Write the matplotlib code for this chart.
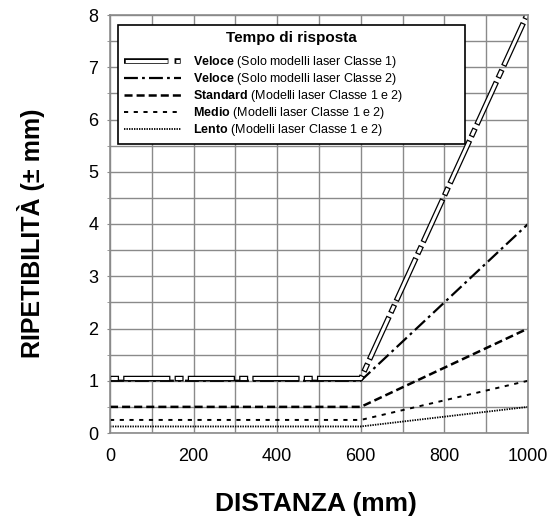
import matplotlib
matplotlib.use("Agg")
import matplotlib.pyplot as plt
from matplotlib.lines import Line2D
from matplotlib.legend_handler import HandlerTuple
from matplotlib import transforms, font_manager
from matplotlib.ticker import MultipleLocator

# ---------------- data ----------------
distanza = [0, 600, 1000]
veloce_c1 = [1.0, 1.0, 8.0]
veloce_c2 = [1.0, 1.0, 4.0]
standard = [0.5, 0.5, 2.0]
medio = [0.25, 0.25, 1.0]
lento = [0.125, 0.125, 0.5]

x_ticks = [0, 200, 400, 600, 800, 1000]
y_ticks = [0, 1, 2, 3, 4, 5, 6, 7, 8]

legend_title = "Tempo di risposta"
labels = [
    r"$\bf{Veloce}$ (Solo modelli laser Classe 1)",
    r"$\bf{Veloce}$ (Solo modelli laser Classe 2)",
    r"$\bf{Standard}$ (Modelli laser Classe 1 e 2)",
    r"$\bf{Medio}$ (Modelli laser Classe 1 e 2)",
    r"$\bf{Lento}$ (Modelli laser Classe 1 e 2)",
]
xlabel = "DISTANZA (mm)"
ylabel = "RIPETIBILITÀ (± mm)"

# ---------------- fonts ----------------
installed = {f.name for f in font_manager.fontManager.ttflist}
if "Liberation Sans Narrow" in installed:
    LAB = "Liberation Sans Narrow"
    xlab_size, ylab_size, leg_size, title_size = 22, 22, 10.5, 12.5
else:
    LAB = "Liberation Sans"
    xlab_size, ylab_size, leg_size, title_size = 19, 18, 9, 11

plt.rcParams["font.family"] = ["Liberation Sans", "DejaVu Sans"]
plt.rcParams["mathtext.fontset"] = "custom"
plt.rcParams["mathtext.rm"] = LAB
plt.rcParams["mathtext.bf"] = LAB + ":bold"
plt.rcParams["lines.scale_dashes"] = False

fig = plt.figure(figsize=(5.52, 5.19), dpi=100)
ax = fig.add_axes([110 / 552, 1 - 433 / 519, 418 / 552, 418 / 519])

ax.set_xlim(0, 1000)
ax.set_ylim(0, 8)
ax.set_xticks(x_ticks)
ax.xaxis.set_minor_locator(MultipleLocator(100))
ax.set_yticks(y_ticks)
ax.yaxis.set_minor_locator(MultipleLocator(0.5))

grid_c = "#8a8a8a"
ax.grid(True, which="both", color=grid_c, linewidth=1.0)
ax.set_axisbelow(True)
for s in ax.spines.values():
    s.set_color(grid_c)
    s.set_linewidth(1.2)

ax.tick_params(axis="x", which="both", length=0, pad=11, labelsize=13)
ax.tick_params(axis="y", which="both", length=2.5, color=grid_c, pad=6, labelsize=13)

# ---------------- lines ----------------
lw_out, lw_in = 4.0, 2.2
b = (lw_out - lw_in) / 2
long_d, short_d, gap = 34.0, 6.5, 3.0
tot = long_d + short_d + 2 * gap

ls_lento = (0, (1.0, 0.8))
ls_medio = (0, (3.0, 4.0))
ls_standard = (0, (5.8, 2.9))
ls_veloce2 = (0, (10.0, 3.0, 2.0, 3.0))

ax.plot(distanza, lento, color="black", lw=1.3, linestyle=ls_lento)
ax.plot(distanza, medio, color="black", lw=1.4, linestyle=ls_medio)
ax.plot(distanza, standard, color="black", lw=1.8, linestyle=ls_standard)
ax.plot(distanza, veloce_c2, color="black", lw=1.6, linestyle=ls_veloce2)

up = transforms.offset_copy(ax.transData, fig=fig, x=0, y=1.6, units="points")
ax.plot(distanza, veloce_c1, color="black", lw=lw_out, transform=up,
        linestyle=(0, (short_d, gap, long_d, gap)), dash_capstyle="butt")
ax.plot(distanza, veloce_c1, color="white", lw=lw_in, transform=up,
        linestyle=(tot - b, (short_d - 2 * b, gap + 2 * b, long_d - 2 * b, gap + 2 * b)),
        dash_capstyle="butt")

# ---------------- legend ----------------
lg_long, lg_short, lg_gap = 32.0, 4.4, 4.4
lg_tot = lg_long + lg_short + 2 * lg_gap
h1a = Line2D([], [], color="black", lw=lw_out,
             linestyle=(0, (lg_long, lg_gap, lg_short, lg_gap)), dash_capstyle="butt")
h1b = Line2D([], [], color="white", lw=lw_in,
             linestyle=(lg_tot - b, (lg_long - 2 * b, lg_gap + 2 * b, lg_short - 2 * b, lg_gap + 2 * b)),
             dash_capstyle="butt")
h2 = Line2D([], [], color="black", lw=1.6, linestyle=ls_veloce2)
h3 = Line2D([], [], color="black", lw=1.8, linestyle=ls_standard)
h4 = Line2D([], [], color="black", lw=1.4, linestyle=ls_medio)
h5 = Line2D([], [], color="black", lw=1.3, linestyle=ls_lento)

leg = ax.legend([(h1a, h1b), h2, h3, h4, h5], labels,
                handler_map={tuple: HandlerTuple(ndivide=1, pad=0)},
                loc="upper left", bbox_to_anchor=(0.019, 0.70, 0.830, 0.276),
                mode="expand", borderaxespad=0, fancybox=False, framealpha=1,
                edgecolor="black", fontsize=leg_size, handlelength=4.6,
                handletextpad=0.95, labelspacing=0.07, borderpad=0.45,
                title=legend_title,
                title_fontproperties={"family": LAB, "weight": "bold", "size": title_size})
leg.get_frame().set_linewidth(1.2)
leg._legend_box.align = "center"
leg._legend_box.sep = 7.0
for t in leg.get_texts():
    t.set_fontfamily(LAB)

ax.set_xlabel(xlabel, fontsize=xlab_size, fontweight="bold", family=LAB)
ax.set_ylabel(ylabel, fontsize=ylab_size, fontweight="bold", family=LAB)
ax.xaxis.set_label_coords(0.492, -0.14)
ax.yaxis.set_label_coords(-0.155, 0.478)

fig.savefig("out.png", dpi=100)
